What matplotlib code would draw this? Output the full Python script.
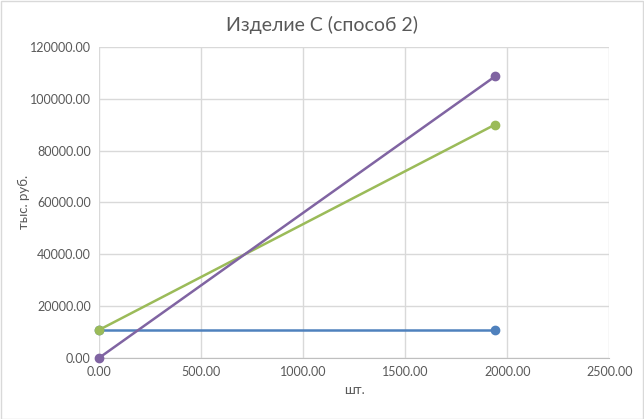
import matplotlib.pyplot as plt
from matplotlib.ticker import FormatStrFormatter

# data
qty = [0, 1940]
fixed_costs = [10800, 10800]
total_costs = [10800, 90000]
revenue = [0, 108600]

x_ticks = [0, 500, 1000, 1500, 2000, 2500]
y_ticks = [0, 20000, 40000, 60000, 80000, 100000, 120000]

plt.rcParams['font.family'] = ['Lato', 'DejaVu Sans']

fig = plt.figure(figsize=(6.44, 4.19), dpi=100)
ax = fig.add_axes([0.154, 0.146, 0.792, 0.742])

ax.plot(qty, fixed_costs, color='#4F81BD', lw=1.8, marker='o', ms=6, clip_on=False, zorder=3)
ax.plot(qty, total_costs, color='#9BBB59', lw=1.8, marker='o', ms=6, clip_on=False, zorder=4)
ax.plot(qty, revenue, color='#8064A2', lw=1.8, marker='o', ms=6, clip_on=False, zorder=5)

ax.set_xlim(0, 2500)
ax.set_ylim(0, 120000)
ax.set_xticks(x_ticks)
ax.set_yticks(y_ticks)
ax.xaxis.set_major_formatter(FormatStrFormatter('%.2f'))
ax.yaxis.set_major_formatter(FormatStrFormatter('%.2f'))
ax.grid(True, color='#d9d9d9', lw=1)
ax.set_axisbelow(True)
for side in ['top', 'right', 'left']:
    ax.spines[side].set_visible(False)
ax.spines['bottom'].set_color('#bfbfbf')
ax.tick_params(length=0, colors='#595959', labelsize=9, pad=6)

ax.set_xlabel('шт.', color='#595959', fontsize=9.5)
ax.set_ylabel('тыс. руб.', color='#595959', fontsize=9.5)
ax.yaxis.set_label_coords(-0.135, 0.5)
fig.text(0.5, 0.94, 'Изделие С (способ 2)', ha='center', va='center',
         fontsize=14, color='#595959')

fig.patches.append(plt.Rectangle((0.001, 0.001), 0.997, 0.997, transform=fig.transFigure,
                                 fill=False, edgecolor='#d9d9d9', lw=1))

fig.savefig('out.png', dpi=100)
